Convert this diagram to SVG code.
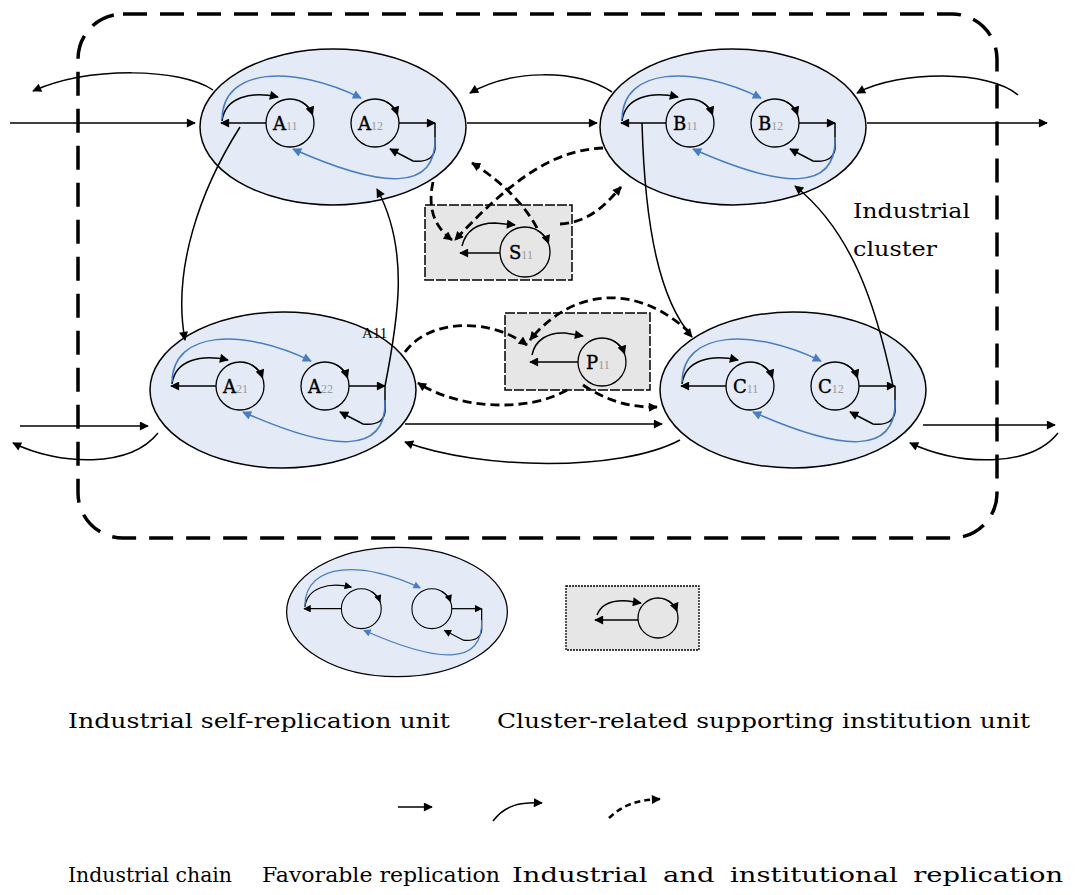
<svg xmlns="http://www.w3.org/2000/svg" xmlns:xlink="http://www.w3.org/1999/xlink" width="1076" height="895" viewBox="0 0 1076 895">
<style>
.ell{fill:#e4ebf7;stroke:#000;stroke-width:1.5}
.c{fill:none;stroke:#000;stroke-width:1.3}
.k{fill:none;stroke:#000;stroke-width:1.5}
.b{fill:none;stroke:#4a7cc4;stroke-width:1.5}
.d{fill:none;stroke:#000;stroke-width:2.8;stroke-dasharray:9 5}
.box{fill:#e6e6e6;stroke:#000;stroke-width:1.5;stroke-dasharray:10 2}
.frame{fill:none;stroke:#000;stroke-width:3.5;stroke-dasharray:24 13}
.lt{font-family:"DejaVu Serif","Liberation Serif",serif;font-size:18px;fill:#000;stroke:#000;stroke-width:0.4}
.sub{font-family:"Liberation Serif",serif;font-size:12px;fill:#999;stroke:none}
.tx{font-family:"DejaVu Serif","Liberation Serif",serif;font-size:20px;fill:#000}
</style>
<defs>
<marker id="ah" viewBox="0 0 10 10" refX="9" refY="5" markerWidth="11" markerHeight="9" markerUnits="userSpaceOnUse" orient="auto"><path d="M0,0 L10,5 L0,10 z" fill="#000"/></marker>
<marker id="bh" viewBox="0 0 10 10" refX="9" refY="5" markerWidth="11" markerHeight="9" markerUnits="userSpaceOnUse" orient="auto"><path d="M0,0 L10,5 L0,10 z" fill="#4a7cc4"/></marker>
<g id="unit">
<ellipse class="ell" rx="133" ry="78"/>
<circle class="c" cx="-43" cy="-4" r="24"/>
<circle class="c" cx="42" cy="-4" r="24"/>
<path class="k" d="M-31,-24.8 A24,24 0 0 1 -20.4,-12.2" marker-end="url(#ah)"/>
<path class="k" d="M54,-24.8 A24,24 0 0 1 64.6,-12.2" marker-end="url(#ah)"/>
<path class="k" d="M-67,-4 L-112,-4" marker-end="url(#ah)"/>
<path class="k" d="M66,-4 L102,-4" marker-end="url(#ah)"/>
<path class="k" d="M-111,-6 C-108,-30 -82,-36 -55,-30" marker-end="url(#ah)"/>
<path class="k" d="M102,-4 L102,22 Q100,36 80,34 L57,22" marker-end="url(#ah)"/>
<path class="b" d="M-111,-8 C-110,-60 -40,-62 28,-29" marker-end="url(#bh)"/>
<path class="b" d="M102,10 C104,65 50,62 -40,22" marker-end="url(#bh)"/>
</g>
</defs>
<rect width="1076" height="895" fill="#fff"/>
<rect id="cluster" class="frame" x="78" y="14" width="919" height="524" rx="45"/>
<g id="label-cluster"><text class="tx" x="853" y="218" textLength="117" lengthAdjust="spacingAndGlyphs">Industrial</text><text class="tx" x="853" y="256" textLength="84" lengthAdjust="spacingAndGlyphs">cluster</text></g>

<g id="A1"><use xlink:href="#unit" x="333" y="127"/><text class="lt" x="273" y="130">A<tspan class="sub">11</tspan></text><text class="lt" x="358" y="130">A<tspan class="sub">12</tspan></text></g>
<g id="B1"><use xlink:href="#unit" x="733" y="127"/><text class="lt" x="673" y="130">B<tspan class="sub">11</tspan></text><text class="lt" x="758" y="130">B<tspan class="sub">12</tspan></text></g>
<g id="A2"><use xlink:href="#unit" x="283" y="390"/><text class="lt" x="223" y="393">A<tspan class="sub">21</tspan></text><text class="lt" x="308" y="393">A<tspan class="sub">22</tspan></text></g>
<g id="C1"><use xlink:href="#unit" x="793" y="390"/><text class="lt" x="733" y="393">C<tspan class="sub">11</tspan></text><text class="lt" x="818" y="393">C<tspan class="sub">12</tspan></text></g>

<g id="S1">
<rect class="box" x="425" y="205" width="147" height="75"/>
<circle class="c" cx="525" cy="252" r="25"/>
<path class="k" d="M537.5,230.3 A25,25 0 0 1 548.5,243.4" marker-end="url(#ah)"/>
<path class="k" d="M500,253 L460,253" marker-end="url(#ah)"/>
<path class="k" d="M462,246 C466,230 478,223 495,223 L515,225" marker-end="url(#ah)"/>
<text class="lt" x="509" y="259">S<tspan class="sub">11</tspan></text>
</g>
<g id="P1">
<rect class="box" x="505" y="313" width="145" height="77"/>
<circle class="c" cx="602" cy="362" r="24"/>
<path class="k" d="M614,341.2 A24,24 0 0 1 624.6,353.8" marker-end="url(#ah)"/>
<path class="k" d="M578,362 L530,362" marker-end="url(#ah)"/>
<path class="k" d="M532,355 C535,340 548,332 565,333 L583,336" marker-end="url(#ah)"/>
<text class="lt" x="586" y="369">P<tspan class="sub">11</tspan></text>
</g>

<g id="connectors">
<path class="k" d="M10,123 L195,123" marker-end="url(#ah)"/>
<path class="k" d="M213,90 C180,68 90,66 33,91" marker-end="url(#ah)"/>
<path class="k" d="M467,123 L597,123" marker-end="url(#ah)"/>
<path class="k" d="M612,92 C575,68 510,70 470,93" marker-end="url(#ah)"/>
<path class="k" d="M867,123 L1047,123" marker-end="url(#ah)"/>
<path class="k" d="M1018,95 C990,70 900,70 857,93" marker-end="url(#ah)"/>
<path class="k" d="M20,426 L148,426" marker-end="url(#ah)"/>
<path class="k" d="M158,433 C130,468 60,466 13,443" marker-end="url(#ah)"/>
<path class="k" d="M923,425 L1055,425" marker-end="url(#ah)"/>
<path class="k" d="M1058,433 C1030,468 960,466 910,443" marker-end="url(#ah)"/>
<path class="k" d="M405,424 L662,424" marker-end="url(#ah)"/>
<path class="k" d="M680,440 C620,472 480,470 405,442" marker-end="url(#ah)"/>
<path class="k" d="M240,127 C200,190 172,270 185,340" marker-end="url(#ah)"/>
<path class="k" d="M385,386 C398,320 410,250 377,189" marker-end="url(#ah)"/>
<path class="k" d="M642,123 C645,230 660,300 692,337" marker-end="url(#ah)"/>
<path class="k" d="M893,386 C875,300 850,230 795,186" marker-end="url(#ah)"/>
<path class="d" d="M560,224 C590,222 605,205 621,187" marker-end="url(#ah)"/>
<path class="d" d="M603,148 C560,150 520,170 455,240" marker-end="url(#ah)"/>
<path class="d" d="M537,228 C525,205 500,180 472,163" marker-end="url(#ah)"/>
<path class="d" d="M433,182 C428,205 432,225 452,240" marker-end="url(#ah)"/>
<path class="d" d="M405,352 C430,318 490,318 527,345" marker-end="url(#ah)"/>
<path class="d" d="M567,390 C530,412 460,410 418,383" marker-end="url(#ah)"/>
<path class="d" d="M690,333 C640,285 575,285 530,340" marker-end="url(#ah)"/>
<path class="d" d="M583,385 C605,400 630,408 657,407" marker-end="url(#ah)"/>
</g>
<text x="362" y="338" style="font-family:'Liberation Serif',serif;font-size:15px">A11</text>

<g id="legend-unit"><use xlink:href="#unit" transform="translate(397,612) scale(0.83)"/></g>
<g id="legend-support">
<rect x="566" y="586" width="133" height="64" fill="#e6e6e6" stroke="#000" stroke-width="1.3" stroke-dasharray="2 1"/>
<circle class="c" cx="658" cy="618" r="20"/>
<path class="k" d="M668,600.7 A20,20 0 0 1 677,611.2" marker-end="url(#ah)"/>
<path class="k" d="M638,620 L595,620" marker-end="url(#ah)"/>
<path class="k" d="M597,615 C602,602 615,600 628,601 L641,603" marker-end="url(#ah)"/>
</g>
<text class="tx" x="68" y="728" textLength="382" lengthAdjust="spacingAndGlyphs">Industrial self-replication unit</text>
<text class="tx" x="497" y="728" textLength="533" lengthAdjust="spacingAndGlyphs">Cluster-related supporting institution unit</text>
<g id="legend-arrows">
<path class="k" d="M398,807 L432,807" marker-end="url(#ah)"/>
<path class="k" d="M493,821 C505,805 520,802 542,803" marker-end="url(#ah)"/>
<path class="d" d="M609,818 C625,803 640,800 660,799" marker-end="url(#ah)" style="stroke-width:2.5;stroke-dasharray:6 4"/>
</g>
<text class="tx" x="68" y="882" textLength="164" lengthAdjust="spacingAndGlyphs">Industrial chain</text>
<text class="tx" x="262" y="882" textLength="238" lengthAdjust="spacingAndGlyphs">Favorable replication</text>
<text class="tx" x="512" y="882" textLength="551" lengthAdjust="spacingAndGlyphs" style="word-spacing:5px">Industrial and institutional replication</text>
</svg>
